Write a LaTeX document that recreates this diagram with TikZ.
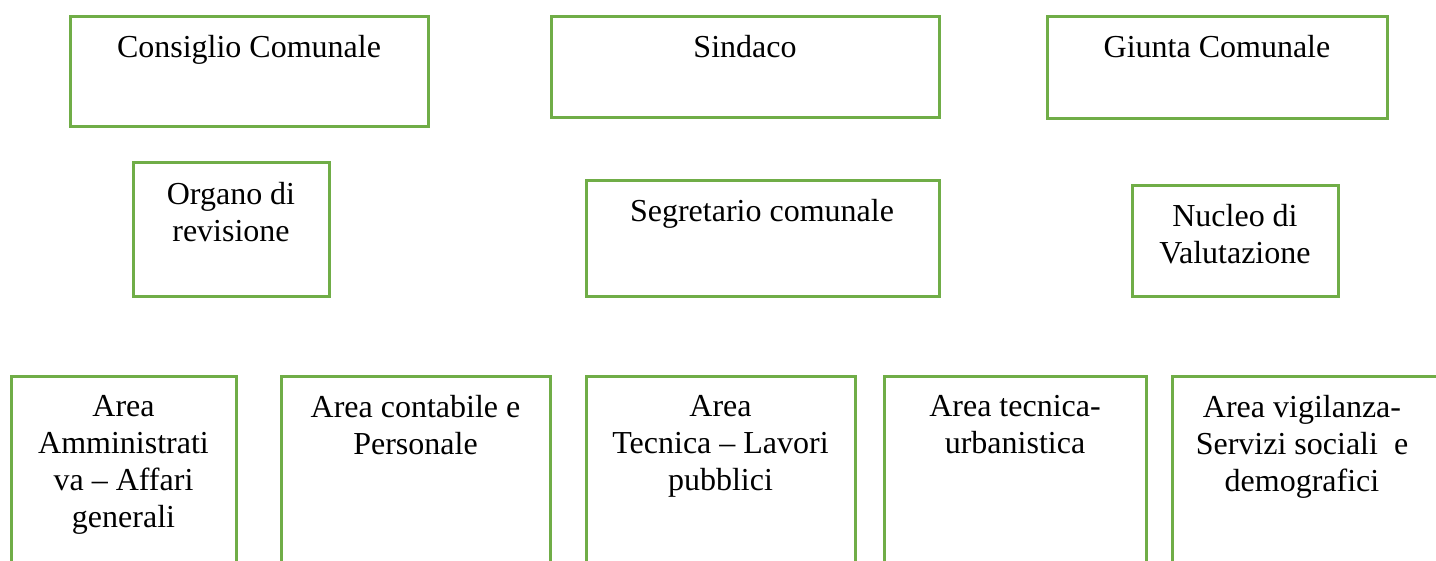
\documentclass[tikz,border=0pt]{standalone}
\usepackage{fontspec}
\setmainfont{Liberation Serif}
\definecolor{boxgreen}{HTML}{70AD47}
\begin{document}
\begin{tikzpicture}[x=1pt,y=-1pt,
  orgbox/.style={draw=boxgreen, line width=3pt, fill=white},
  lbl/.style={anchor=north, inner sep=0pt, align=center, text=black,
    font=\fontsize{32}{37}\selectfont}]
\useasboundingbox (0,0) rectangle (1436,560);
\clip (0,0) rectangle (1436,560);
% top row
\draw[orgbox] (70,16) rectangle (428,126);
\coordinate (ccT) at (249,35);
\node[lbl] (cc) at (ccT) {Consiglio Comunale};
\draw[orgbox] (551,16) rectangle (939,117);
\coordinate (sinT) at (745,35);
\node[lbl] (sin) at (sinT) {Sindaco};
\draw[orgbox] (1047,16) rectangle (1387,118);
\coordinate (giuT) at (1217,35);
\node[lbl] (giu) at (giuT) {Giunta Comunale};
% middle row
\draw[orgbox] (133,162) rectangle (329,296);
\coordinate (orgT) at (231,182);
\node[lbl] (org) at (orgT) {Organo di\\revisione};
\draw[orgbox] (586,180) rectangle (939,296);
\coordinate (segT) at (762,199);
\node[lbl] (seg) at (segT) {Segretario comunale};
\draw[orgbox] (1132,185) rectangle (1338,296);
\coordinate (nucT) at (1235,204);
\node[lbl] (nuc) at (nucT) {Nucleo di\\Valutazione};
% bottom row
\draw[orgbox] (11,376) rectangle (236,620);
\coordinate (aaT) at (123.5,395);
\node[lbl] (aa) at (aaT) {Area\\Amministrati\\va -- Affari\\generali};
\draw[orgbox] (281,376) rectangle (550,620);
\coordinate (acT) at (415.5,395);
\node[lbl] (ac) at (acT) {Area contabile e\\Personale};
\draw[orgbox] (586,376) rectangle (855,620);
\coordinate (atT) at (720.5,395);
\node[lbl] (at) at (atT) {Area\\Tecnica -- Lavori\\pubblici};
\draw[orgbox] (884,376) rectangle (1146,620);
\coordinate (auT) at (1015,395);
\node[lbl] (au) at (auT) {Area tecnica-\\urbanistica};
\draw[orgbox] (1172,376) rectangle (1480,620);
\coordinate (avT) at (1302,395);
\node[lbl] (av) at (avT) {Area vigilanza-\\Servizi sociali\ \ e\\demografici};
\end{tikzpicture}
\end{document}
